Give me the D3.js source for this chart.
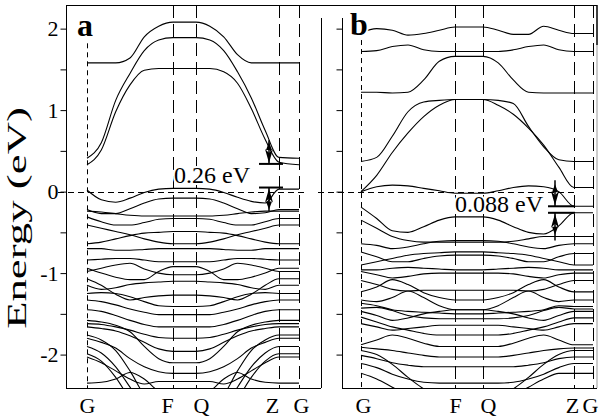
<!DOCTYPE html>
<html><head><meta charset="utf-8">
<script src="https://cdn.jsdelivr.net/npm/d3@7"></script>
<style>body{margin:0;background:#fff}svg{display:block}text{font-family:"Liberation Serif","Times New Roman",serif;fill:#000}</style>
</head><body><svg id="c" width="600" height="420"></svg>
<script>
// ---------- data ----------
const kLabels = ["G","F","Q","Z","G"];
const kPointsA = [0, 86, 109, 192, 212];
const kPointsB = [0, 94, 122, 213, 232];
const kGridA = [0,14.3,28.7,43,57.3,71.7,86,109,122.8,136.7,150.5,164.3,178.2,192,212];
const kGridB = [0,15.7,31.3,47,62.7,78.3,94,122,137.2,152.3,167.5,182.7,197.8,213,232];
const yTicks = [-2,-1.5,-1,-0.5,0,0.5,1,1.5,2];
const yTickLabels = ["-2","","-1","","0","","1","","2"];

const bandsA = [
 [0.33,0.51,0.98,1.31,1.49,1.51,1.51, 1.51,1.51,1.47,1.33,1.02,0.64,0.36,0.33],
 [0.41,0.60,1.12,1.45,1.73,1.86,1.89, 1.89,1.86,1.73,1.47,1.15,0.75,0.42,0.41],
 [1.58,1.58,1.58,1.64,1.90,2.03,2.08, 2.08,2.03,1.90,1.68,1.58,1.58,1.58,1.58],
 [0.02,-0.10,-0.13,-0.08,-0.01,0.03,0.04, 0.04,0.03,-0.01,-0.07,-0.12,-0.14,0.03,0.03],
 [-0.22,-0.27,-0.27,-0.21,-0.14,-0.09,-0.08, -0.08,-0.09,-0.14,-0.21,-0.27,-0.26,-0.22,-0.22],
 [-0.24,-0.25,-0.27,-0.29,-0.30,-0.30,-0.30, -0.30,-0.30,-0.29,-0.27,-0.25,-0.24,-0.24,-0.24],
 [-0.31,-0.37,-0.41,-0.41,-0.38,-0.34,-0.33, -0.33,-0.34,-0.38,-0.41,-0.41,-0.37,-0.33,-0.33],
 [-0.41,-0.45,-0.49,-0.53,-0.58,-0.62,-0.64, -0.64,-0.62,-0.58,-0.53,-0.49,-0.45,-0.41,-0.41],
 [-0.64,-0.62,-0.58,-0.54,-0.51,-0.50,-0.49, -0.49,-0.50,-0.51,-0.54,-0.58,-0.62,-0.64,-0.64],
 [-0.70,-0.70,-0.72,-0.72,-0.71,-0.70,-0.70, -0.70,-0.70,-0.71,-0.72,-0.72,-0.70,-0.70,-0.70],
 [-0.84,-0.83,-0.82,-0.82,-0.84,-0.86,-0.86, -0.86,-0.86,-0.84,-0.82,-0.82,-0.83,-0.84,-0.84],
 [-0.94,-1.00,-1.05,-1.08,-1.08,-0.98,-0.92, -0.92,-0.98,-1.08,-1.08,-1.05,-1.00,-0.94,-0.94],
 [-0.98,-0.94,-0.90,-0.88,-0.95,-1.00,-1.02, -1.02,-1.00,-0.95,-0.88,-0.90,-0.94,-0.98,-0.98],
 [-1.07,-1.15,-1.26,-1.33,-1.30,-1.28,-1.27, -1.27,-1.28,-1.30,-1.33,-1.26,-1.15,-1.07,-1.07],
 [-1.15,-1.20,-1.18,-1.14,-1.12,-1.11,-1.10, -1.10,-1.11,-1.12,-1.14,-1.18,-1.20,-1.15,-1.15],
 [-1.25,-1.24,-1.25,-1.29,-1.35,-1.40,-1.41, -1.41,-1.40,-1.35,-1.29,-1.25,-1.24,-1.25,-1.25],
 [-1.33,-1.35,-1.39,-1.44,-1.48,-1.51,-1.51, -1.51,-1.51,-1.48,-1.44,-1.39,-1.35,-1.33,-1.33],
 [-1.45,-1.47,-1.52,-1.58,-1.63,-1.66,-1.66, -1.66,-1.66,-1.63,-1.58,-1.52,-1.47,-1.45,-1.45],
 [-1.58,-1.60,-1.64,-1.72,-1.90,-2.05,-2.10, -2.10,-2.05,-1.90,-1.72,-1.64,-1.60,-1.58,-1.58],
 [-1.62,-1.63,-1.66,-1.70,-1.75,-1.79,-1.80, -1.80,-1.79,-1.75,-1.70,-1.66,-1.63,-1.62,-1.62],
 [-1.66,-1.68,-1.71,-1.77,-1.85,-1.93,-1.96, -1.96,-1.93,-1.85,-1.77,-1.71,-1.68,-1.66,-1.66],
 [-1.76,-1.82,-1.95,-2.20,-2.50,-2.70,-2.75, -2.75,-2.70,-2.50,-2.20,-1.95,-1.82,-1.76,-1.76],
 [-1.80,-1.85,-1.92,-2.05,-2.15,-2.21,-2.23, -2.23,-2.21,-2.15,-2.05,-1.92,-1.85,-1.80,-1.80],
 [-1.90,-1.98,-2.15,-2.40,-2.65,-2.80,-2.85, -2.85,-2.80,-2.65,-2.40,-2.15,-1.98,-1.90,-1.90],
 [-1.99,-2.08,-2.28,-2.55,-2.80,-2.90,-2.95, -2.95,-2.90,-2.80,-2.55,-2.28,-2.08,-1.99,-1.99],
 [-2.03,-2.10,-2.20,-2.30,-2.36,-2.33,-2.33, -2.33,-2.33,-2.36,-2.30,-2.20,-2.10,-2.03,-2.03],
 [-2.35,-2.34,-2.30,-2.22,-2.30,-2.45,-2.50, -2.50,-2.45,-2.30,-2.22,-2.30,-2.34,-2.35,-2.35]
];

const bandsB = [
 [0.00,0.20,0.48,0.72,0.92,1.06,1.13, 1.13,1.06,0.95,0.78,0.57,0.30,0.05,0.05],
 [0.37,0.42,0.68,0.98,1.10,1.12,1.13, 1.13,1.12,1.08,0.80,0.55,0.39,0.37,0.37],
 [1.22,1.22,1.21,1.22,1.37,1.60,1.66, 1.66,1.58,1.37,1.22,1.21,1.21,1.21,1.21],
 [1.72,1.73,1.78,1.80,1.74,1.72,1.72, 1.72,1.72,1.74,1.78,1.80,1.74,1.72,1.72],
 [1.95,2.00,1.98,1.92,1.94,1.98,2.02, 2.02,1.98,1.93,1.93,2.03,1.98,1.94,1.94],
 [0.00,0.06,0.08,0.07,0.04,0.01,-0.02, -0.02,0.01,0.05,0.07,0.06,0.00,-0.18,-0.18],
 [-0.19,-0.33,-0.48,-0.50,-0.43,-0.35,-0.31, -0.31,-0.35,-0.43,-0.50,-0.52,-0.42,-0.26,-0.26],
 [-0.35,-0.45,-0.55,-0.60,-0.62,-0.62,-0.62, -0.62,-0.62,-0.61,-0.58,-0.55,-0.55,-0.55,-0.55],
 [-0.64,-0.66,-0.70,-0.68,-0.64,-0.61,-0.60, -0.60,-0.61,-0.64,-0.68,-0.70,-0.66,-0.64,-0.64],
 [-0.74,-0.80,-0.86,-0.86,-0.82,-0.79,-0.78, -0.78,-0.79,-0.82,-0.86,-0.86,-0.80,-0.76,-0.76],
 [-0.90,-0.86,-0.82,-0.78,-0.76,-0.75,-0.74, -0.74,-0.75,-0.76,-0.78,-0.82,-0.86,-0.90,-0.90],
 [-0.96,-0.96,-0.94,-0.93,-0.94,-0.95,-0.96, -0.96,-0.95,-0.94,-0.93,-0.94,-0.96,-0.96,-0.96],
 [-0.98,-1.02,-1.06,-1.04,-1.01,-1.00,-1.00, -1.00,-1.00,-1.01,-1.04,-1.06,-1.02,-1.00,-1.00],
 [-1.09,-1.14,-1.20,-1.22,-1.21,-1.21,-1.21, -1.21,-1.21,-1.21,-1.22,-1.20,-1.14,-1.09,-1.09],
 [-1.23,-1.17,-1.08,-1.14,-1.24,-1.30,-1.33, -1.33,-1.30,-1.24,-1.14,-1.08,-1.17,-1.23,-1.23],
 [-1.33,-1.35,-1.30,-1.22,-1.30,-1.40,-1.45, -1.45,-1.40,-1.30,-1.22,-1.30,-1.35,-1.33,-1.33],
 [-1.37,-1.40,-1.45,-1.47,-1.48,-1.49,-1.50, -1.50,-1.49,-1.48,-1.47,-1.45,-1.40,-1.41,-1.41],
 [-1.43,-1.42,-1.46,-1.52,-1.55,-1.56,-1.56, -1.56,-1.56,-1.55,-1.52,-1.46,-1.42,-1.44,-1.44],
 [-1.47,-1.52,-1.58,-1.55,-1.50,-1.47,-1.45, -1.45,-1.47,-1.50,-1.55,-1.58,-1.52,-1.47,-1.47],
 [-1.54,-1.60,-1.66,-1.70,-1.74,-1.76,-1.76, -1.76,-1.76,-1.74,-1.70,-1.66,-1.60,-1.55,-1.55],
 [-1.62,-1.66,-1.70,-1.68,-1.66,-1.64,-1.64, -1.64,-1.64,-1.66,-1.68,-1.70,-1.66,-1.62,-1.62],
 [-1.88,-1.82,-1.76,-1.80,-1.86,-1.90,-1.90, -1.90,-1.90,-1.86,-1.80,-1.76,-1.82,-1.88,-1.88],
 [-1.91,-1.93,-1.95,-1.98,-2.01,-2.03,-2.03, -2.03,-2.03,-2.01,-1.98,-1.95,-1.93,-1.92,-1.92],
 [-2.01,-2.05,-2.10,-2.13,-2.15,-2.15,-2.15, -2.15,-2.15,-2.15,-2.13,-2.10,-2.05,-2.03,-2.03],
 [-2.11,-2.16,-2.24,-2.30,-2.34,-2.35,-2.35, -2.35,-2.35,-2.34,-2.30,-2.24,-2.16,-2.11,-2.11],
 [-1.95,-2.00,-2.12,-2.28,-2.42,-2.50,-2.55, -2.55,-2.50,-2.42,-2.28,-2.12,-2.00,-1.95,-1.95],
 [-2.23,-2.30,-2.40,-2.50,-2.55,-2.55,-2.55, -2.55,-2.55,-2.50,-2.40,-2.30,-2.23,-2.23,-2.23]
];

// gap annotations: levels in eV, label, k positions
const gapA = {label:"0.26 eV", upper:0.34, lower:0.05, k:182, k0:172, k1:196, from:0.63, to:-0.24, textK:163, textE:0.105};
const gapB = {label:"0.088 eV", upper:-0.18, lower:-0.26, k:194, k0:187, k1:214, from:0.14, to:-0.60, textK:182, textE:-0.25};

// ---------- drawing ----------
const svg = d3.select("#c");
const y = d3.scaleLinear().domain([-2.41, 2.29]).range([388, 5]);
const xA = d3.scaleLinear().domain([0, 212]).range([87, 299]);
const xB = d3.scaleLinear().domain([0, 232]).range([361, 593]);
const px = v => Math.round(v) + 0.5;

function hline(x1, x2, yy, opts = {}) {
  return svg.append("line").attr("x1", x1).attr("x2", x2).attr("y1", yy).attr("y2", yy)
    .attr("stroke", opts.color || "#000").attr("stroke-width", opts.w || 1)
    .attr("stroke-dasharray", opts.dash || null);
}
function vline(xx, y1, y2, opts = {}) {
  return svg.append("line").attr("x1", xx).attr("x2", xx).attr("y1", y1).attr("y2", y2)
    .attr("stroke", opts.color || "#000").attr("stroke-width", opts.w || 1)
    .attr("stroke-dasharray", opts.dash || null);
}

function panel(id, x, kGrid, kPts, bands, gTopE, left, right) {
  svg.append("clipPath").attr("id", "clip" + id).append("rect")
    .attr("x", left).attr("y", 5).attr("width", right - left).attr("height", 383);
  kPts.forEach((k, i) => {
    vline(px(x(k)), i === 0 ? y(gTopE) : 5, 388, {dash: i === 0 ? "5,4" : "13,6"});
  });
  const line = d3.line().x((d, i) => x(kGrid[i])).y(d => y(d)).curve(d3.curveMonotoneX);
  svg.append("g").attr("clip-path", `url(#clip${id})`)
    .selectAll("path").data(bands).join("path")
    .attr("d", line).attr("fill", "none").attr("stroke", "#000").attr("stroke-width", 1.1);
}

panel("a", xA, kGridA, kPointsA, bandsA, 1.82, 66, 321);
panel("b", xB, kGridB, kPointsB, bandsB, 1.86, 342, 597);

// zero lines
hline(58, 304, px(y(0)), {dash: "6,4"});
hline(318, 578, px(y(0)), {dash: "6,4"});

// frame
hline(66, 597, 5.5);
hline(66, 321, 388.5);
hline(342, 597, 388.5);
vline(321.5, 18, 388);
vline(597, 5, 45, {w: 1.5});
vline(597, 45, 388, {color: "#999"});

// y axes
const axA = d3.axisLeft(y).tickValues(yTicks).tickSize(6).tickSizeOuter(0).tickPadding(2)
  .tickFormat((d, i) => yTickLabels[i]);
const gA = svg.append("g").attr("transform", "translate(66.5,0)").call(axA);
gA.select(".domain").remove();
vline(66.5, 5, 388);
gA.selectAll("text").attr("font-size", 22).attr("font-family", '"Liberation Serif",serif');

const axB = d3.axisLeft(y).tickValues(yTicks).tickSize(6).tickSizeOuter(0).tickFormat(() => "");
const gB = svg.append("g").attr("transform", "translate(342.5,0)").call(axB);
gB.select(".domain").remove();
vline(342.5, 18, 388);

// x axes labels
function xlabels(x, kPts, shifts) {
  const ax = d3.axisBottom(x).tickValues(kPts).tickSize(0).tickPadding(9).tickFormat((d, i) => kLabels[i]);
  const g = svg.append("g").attr("transform", "translate(0,388)").call(ax);
  g.select(".domain").remove();
  g.selectAll("text").attr("font-size", 22).attr("font-family", '"Liberation Serif",serif')
    .attr("dx", (d, i) => shifts[i]);
}
xlabels(xA, kPointsA, [0, -6, 5, -7, 2]);
xlabels(xB, kPointsB, [2, 0, 5, -2, -3]);

// gap annotations
function gap(x, g) {
  hline(x(g.k0), x(g.k1), y(g.upper), {w: 2});
  hline(x(g.k0), x(g.k1), y(g.lower), {w: 2});
  const ax = x(g.k);
  vline(ax, y(g.from), y(g.upper), {w: 1.5});
  vline(ax, y(g.to), y(g.lower), {w: 1.5});
  const yu = y(g.upper), yl = y(g.lower);
  svg.append("path").attr("d", `M${ax},${yu - 1}L${ax - 4},${yu - 15}L${ax},${yu - 11}L${ax + 4},${yu - 15}Z`).attr("fill", "#000");
  svg.append("path").attr("d", `M${ax - 3},${yu - 14}L${ax},${yu - 22}L${ax + 3},${yu - 14}Z`).attr("fill", "#000");
  svg.append("path").attr("d", `M${ax},${yl + 1}L${ax - 4},${yl + 15}L${ax},${yl + 11}L${ax + 4},${yl + 15}Z`).attr("fill", "#000");
  svg.append("path").attr("d", `M${ax - 3},${yl + 14}L${ax},${yl + 22}L${ax + 3},${yl + 14}Z`).attr("fill", "#000");
  svg.append("text").attr("x", x(g.textK)).attr("y", y(g.textE)).attr("text-anchor", "end")
    .attr("font-size", 24).attr("stroke", "#fff").attr("stroke-width", 4).attr("paint-order", "stroke")
    .text(g.label);
}
gap(xA, gapA);
gap(xB, gapB);

// panel letters
svg.append("text").attr("x", 77).attr("y", 36).attr("font-size", 32).attr("font-weight", "bold")
  .attr("stroke", "#fff").attr("stroke-width", 4).attr("paint-order", "stroke").text("a");
svg.append("text").attr("x", 350).attr("y", 35).attr("font-size", 32).attr("font-weight", "bold")
  .attr("stroke", "#fff").attr("stroke-width", 4).attr("paint-order", "stroke").text("b");

// y title
svg.append("text").attr("transform", "translate(17,218) rotate(-90) scale(1.6,1)")
  .attr("text-anchor", "middle").attr("dominant-baseline", "central").attr("font-size", 28)
  .text("Energy (eV)");
</script></body></html>
